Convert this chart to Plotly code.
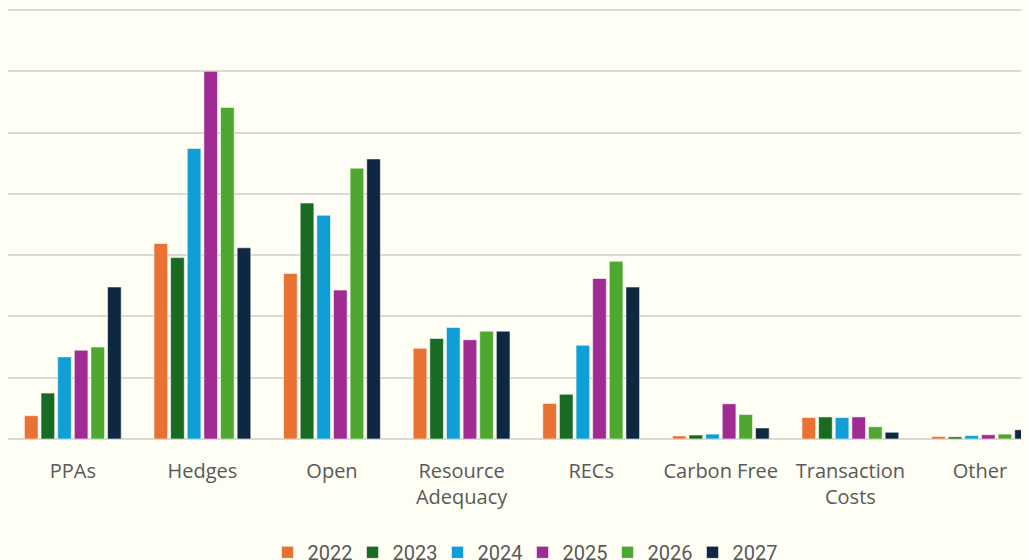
import plotly.graph_objects as go

categories = ["PPAs", "Hedges", "Open", "Resource<br>Adequacy", "RECs",
              "Carbon Free", "Transaction<br>Costs", "Other"]
years = ["2022", "2023", "2024", "2025", "2026", "2027"]

v2022 = [0.38, 3.19, 2.70, 1.48, 0.58, 0.05, 0.35, 0.04]
v2023 = [0.75, 2.96, 3.85, 1.64, 0.73, 0.065, 0.36, 0.035]
v2024 = [1.34, 4.74, 3.65, 1.82, 1.53, 0.08, 0.35, 0.055]
v2025 = [1.45, 6.00, 2.43, 1.62, 2.62, 0.575, 0.36, 0.07]
v2026 = [1.50, 5.41, 4.42, 1.76, 2.90, 0.40, 0.20, 0.08]
v2027 = [2.48, 3.12, 4.57, 1.76, 2.48, 0.18, 0.11, 0.15]

colors = ["#E97132", "#196B24", "#0F9ED5", "#A02B93", "#4EA72E", "#0E2841"]
bg = "#FEFEF5"

fig = go.Figure()
for yr, vals, c in zip(years, [v2022, v2023, v2024, v2025, v2026, v2027], colors):
    fig.add_trace(go.Bar(x=categories, y=vals, name=yr,
                         marker=dict(color=c, line=dict(color="rgba(255,255,255,0.55)", width=1))))

# page has an 8px body margin, so the figure is offset by 8px right/down
fig.update_layout(
    width=1029, height=560,
    paper_bgcolor=bg, plot_bgcolor=bg,
    barmode="group", bargap=0.23, bargroupgap=0.18,
    margin=dict(l=0, r=0, t=0, b=129, autoexpand=False),
    font=dict(family="Roboto, Noto Sans, sans-serif", size=20, color="#595959"),
    showlegend=True,
    legend=dict(orientation="h", x=0.5, xanchor="center", y=-0.263, yanchor="middle",
                font=dict(size=20, color="#595959"), bgcolor="rgba(0,0,0,0)",
                traceorder="normal", entrywidth=40, entrywidthmode="pixels"),
    xaxis=dict(range=[-0.5, 7.44], showgrid=False, showline=False, ticks="",
               ticklabelstandoff=18,
               tickfont=dict(family="Open Sans, sans-serif", size=20, color="#595959")),
    yaxis=dict(range=[0, 7.033], dtick=1, showticklabels=False, gridcolor="#D9D9D9",
               gridwidth=1.5, zeroline=True, zerolinecolor="#D9D9D9", zerolinewidth=1.5,
               showline=False),
)

fig.write_html("out.html", post_script="document.body.style.background='%s';" % bg)
